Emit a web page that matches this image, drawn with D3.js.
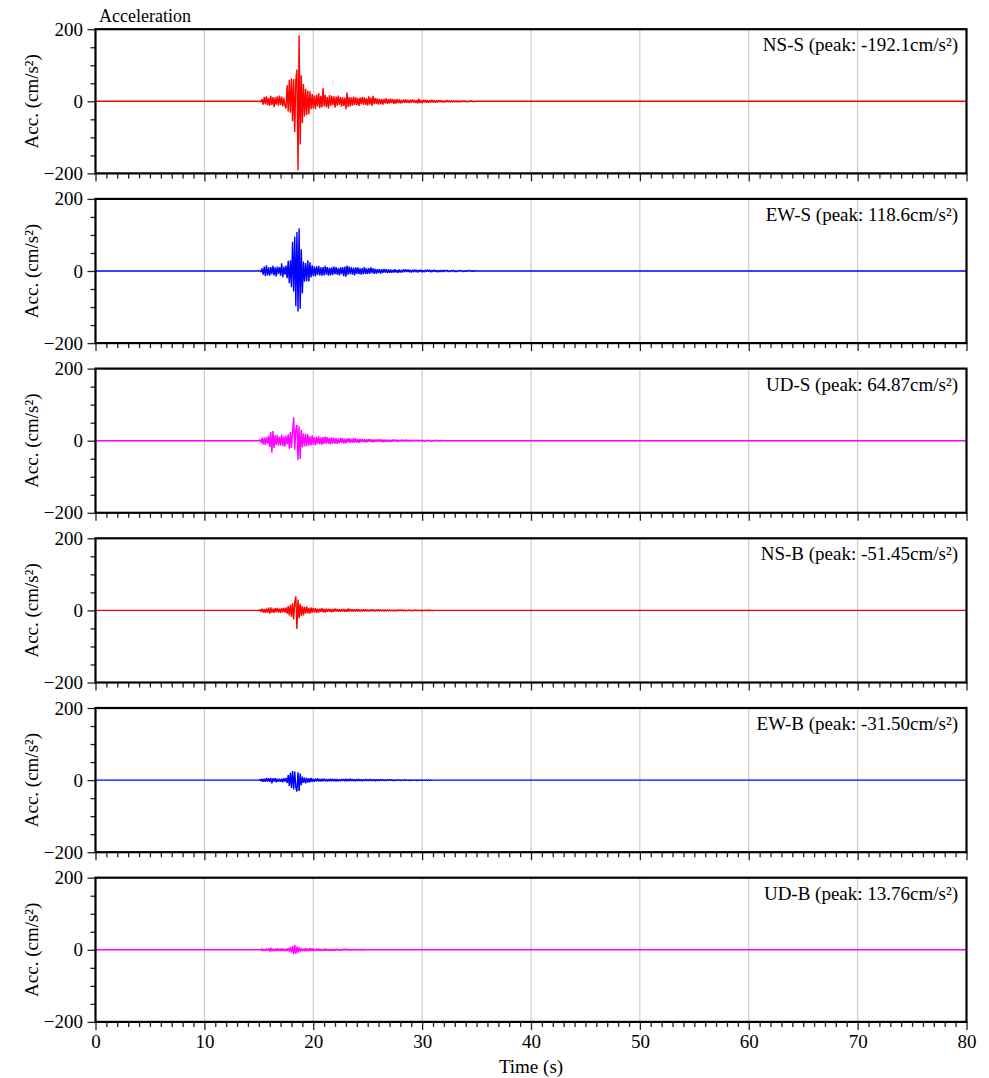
<!DOCTYPE html>
<html><head><meta charset="utf-8">
<script src="https://cdn.jsdelivr.net/npm/d3@7"></script>
<style>
body{margin:0;background:#fff}
svg{display:block}
text{font-family:"Liberation Serif","Times New Roman",serif;}
</style>
</head><body><svg id="chart" width="989" height="1078"></svg>
<script>
// ---------------- data ----------------
const channels = ["NS-S", "EW-S", "UD-S", "NS-B", "EW-B", "UD-B"];
const peakLabels = ["-192.1", "118.6", "64.87", "-51.45", "-31.50", "13.76"];
const timeDomain = [0, 80];
const accDomain = [-200, 200];
const timeStart = 15.0;   // first sample of the typed records (s)
const sampleStep = 0.1;   // sample interval (s)

const nsS = [
  0, 1, -2, 6, -9, 12, -8, 14, -11, 9,
  -13, 15, -10, 12, -16, 11, -9, 14, -12, 16,
  -10, 13, -14, 9, -12, -20, 45, -28, 60, -32,
  64, -55, 62, -85, 58, 88, -192.1, 183, -120, 72,
  -60, 48, -42, 35, -38, 30, -36, 28, -22, 20,
  -20, 16, -22, 18, -14, 23, -19, 15, -17, 37,
  -14, 18, -16, 12, -20, 17, -13, 15, -11, 14,
  -18, 13, -12, 16, -10, 12, -15, 11, -13, 10,
  -22, 24, -16, 12, -14, 11, -12, 13, -10, 12,
  -11, 9, -13, 10, -8, 12, -9, 11, -10, 8,
  -12, 14, -9, 10, -13, 15, -8, 9, -7, 8,
  -9, 7, -8, 6, -9, 7, -6, 8, -7, 6,
  -6, 7, -5, 6, -7, 5, -6, 6, -5, 5,
  -6, 4, -5, 5, -4, 5, -4, 4, -5, 4,
  -4, 5, -3, 4, -5, 4, -6, 7, -5, 4,
  -5, 4, -3, 4, -4, 3, -4, 3, -3, 4,
  -3, 3, -4, 3, -3, 3, -2, 3, -3, 2,
  -3, 2, -2, 3, -2, 2, -3, 2, -2, 2,
  -2, 2, -2, 2, -2, 1, -2, 2, -1, 2,
  -2, 1, -2, 1, -1, 2, -1, 1, -2, 1,
  0
];
const ewS = [
  0, 1, -3, 7, -10, 12, -14, 16, -12, 10,
  -13, 11, -9, 14, -12, 10, -15, 12, -8, 11,
  -13, 21, -17, 12, -10, 15, -20, 28, -34, 30,
  -45, 81, -57, 95, -98, 108, -112, 118.6, -105, 60,
  -62, 26, -30, 22, -28, 30, -29, 24, -18, 16,
  -14, 12, -15, 13, -11, 14, -12, 10, -13, 11,
  -12, 14, -10, 11, -13, 9, -12, 10, -11, 12,
  -9, 11, -10, 8, -12, 10, -9, 11, -14, 12,
  -16, 15, -10, 12, -9, 11, -10, 9, -12, 10,
  -8, 10, -9, 7, -10, 8, -9, 11, -8, 7,
  -9, 8, -7, 10, -6, 7, -8, 6, -7, 5,
  -6, 5, -7, 4, -5, 6, -4, 5, -6, 4,
  -5, 4, -5, 3, -4, 5, -4, 3, -5, 4,
  -4, 3, -4, 5, -3, 4, -3, 4, -3, 3,
  -4, 3, -3, 4, -3, 3, -4, 3, -2, 3,
  -3, 2, -3, 3, -2, 3, -2, 3, -3, 2,
  -2, 3, -2, 2, -3, 2, -2, 2, -2, 2,
  -2, 2, -1, 2, -2, 1, -2, 2, -1, 2,
  -2, 1, -2, 1, -1, 2, -1, 1, -2, 1,
  -1, 1, -1, 2, -1, 1, -1, 1, -1, 1,
  0
];
const udS = [
  0, 3, -6, 8, -10, 9, -12, 10, -8, 14,
  -18, 24, -33, 27, -20, 15, -12, 16, -14, 11,
  -13, 17, -15, 12, -16, 14, -10, 18, -22, 24,
  -20, 22, 64.87, -25, 30, 44, -54, 40, -50, 30,
  -18, 20, -16, 19, -15, 18, -14, 12, -13, 15,
  -12, 10, -13, 11, -9, 12, -10, 9, -11, 10,
  -9, 12, -8, 10, -9, 8, -10, 9, -8, 7,
  -8, 7, -9, 6, -7, 8, -6, 7, -8, 6,
  -7, 6, -5, 7, -6, 5, -6, 8, -5, 6,
  -5, 4, -6, 5, -4, 5, -4, 4, -5, 4,
  -4, 5, -3, 4, -4, 3, -4, 3, -3, 4,
  -3, 4, -3, 3, -4, 3, -3, 2, -3, 3,
  -3, 2, -3, 3, -2, 3, -2, 2, -3, 2,
  -2, 3, -2, 2, -2, 3, -2, 2, -2, 2,
  -2, 2, -2, 2, -1, 2, -2, 2, -1, 2,
  -2, 1, -2, 1, -1, 2, -1, 1, -2, 1,
  -1, 1, -1, 2, -1, 1, -1, 1, -1, 1,
  0
];
const nsB = [
  0, 2, -4, 5, -6, 4, -7, 5, -6, 8,
  -9, 8, -6, 5, -7, 6, -5, 7, -6, 5,
  -7, 6, -5, 7, -6, 8, -9, 12, -14, 16,
  -18, 20, -25, 22, 39, -51.45, 30, -22, 18, -15,
  12, -14, 10, -9, 11, -8, 7, -9, 8, -6,
  7, -5, 6, -7, 5, -6, 5, -4, 6, -5,
  4, -6, 5, -4, 5, -4, 4, -5, 4, -4,
  5, -3, 4, -4, 3, -4, 4, -3, 4, -4,
  3, -4, 5, -3, 4, -3, 3, -4, 3, -3,
  4, -3, 3, -3, 2, -3, 3, -2, 3, -3,
  2, -3, 2, -2, 3, -2, 2, -3, 2, -2,
  3, -2, 2, -2, 2, -3, 2, -2, 2, -2,
  2, -2, 1, -2, 2, -2, 1, -2, 2, -1,
  2, -1, 2, -2, 1, -2, 1, -1, 2, -1,
  1, -2, 1, -1, 2, -1, 1, -1, 1, -2,
  1, -1, 1, -1, 1, -1, 2, -1, 1, -1,
  0
];
const ewB = [
  0, 2, -3, 4, -5, 4, -5, 6, -4, 5,
  -5, 6, -9, 5, -4, 5, -6, 4, -5, 4,
  -5, 4, -6, 5, -4, 6, -8, 14, -16, 20,
  -22, 25, -26, 24, -20, -31.5, 22, -30, 18, -14,
  10, -8, 7, -9, 6, -7, 5, -6, 6, -5,
  4, -5, 4, -3, 5, -4, 3, -4, 4, -3,
  4, -3, 3, -4, 3, -3, 4, -3, 3, -3,
  3, -4, 3, -3, 2, -3, 3, -2, 3, -3,
  4, -3, 3, -3, 4, -2, 3, -3, 2, -3,
  3, -2, 3, -2, 2, -3, 2, -2, 3, -2,
  2, -2, 3, -2, 2, -2, 2, -3, 2, -2,
  2, -2, 2, -1, 2, -2, 1, -2, 2, -1,
  2, -1, 2, -2, 1, -2, 1, -1, 2, -1,
  1, -2, 1, -1, 2, -1, 1, -1, 1, -2,
  1, -1, 1, -1, 1, -2, 1, -1, 1, -1,
  1, -1, 1, -1, 1, -1, 1, -1, 1, -1,
  0
];
const udB = [
  0, 1, -2, 3, -3, 2, -3, 3, -2, 4,
  -5, 6, -4, 3, -4, 3, -3, 4, -3, 3,
  -3, 4, -3, 3, -4, 3, -3, 4, -5, 7,
  -8, 10, -12, 13.76, -11, 9, -8, 7, -5, 4,
  -4, 3, -4, 5, -4, 3, -3, 4, -3, 4,
  -3, 2, -3, 3, -2, 3, -2, 2, -3, 2,
  -2, 3, -2, 2, -2, 2, -3, 2, -2, 2,
  -2, 2, -1, 2, -2, 1, -2, 2, -1, 2,
  -1, 2, -1, 1, -2, 1, -1, 2, -1, 1,
  -1, 1, -1, 1, -1, 1, -1, 1, -1, 1,
  0
];
const records = [nsS, ewS, udS, nsB, ewB, udB];

const yMajorTicks = [-200, 0, 200];
const yMinorTicks = [-150, -100, -50, 50, 100, 150];
const xMajorTicks = [0, 10, 20, 30, 40, 50, 60, 70, 80];
const xMinorTicks = d3.range(0, 81, 1);

// ---------------- style / layout ----------------
const traceColors = ["#ff0000", "#0000ff", "#ff00ff", "#ff0000", "#0000ff", "#ff00ff"];
const L = 95.5, R = 966.5;
const panelTop0 = 29.2, panelStep = 169.7, panelH = 144.2;
const FS = 19;

const svg = d3.select("#chart");
const x = d3.scaleLinear().domain(timeDomain).range([L, R]);

svg.append("text").attr("x", 99).attr("y", 21.5)
  .attr("font-size", FS - 1).text("Acceleration");

channels.forEach((ch, i) => {
  const top = panelTop0 + i * panelStep;
  const bot = top + panelH;
  const y = d3.scaleLinear().domain(accDomain).range([bot, top]);
  const g = svg.append("g");

  // clip
  const cid = "clip" + i;
  svg.append("clipPath").attr("id", cid).append("rect")
    .attr("x", L).attr("y", top).attr("width", R - L).attr("height", panelH);

  // grid
  g.append("g").selectAll("line").data(xMajorTicks.filter(t => t > 0 && t < 80)).join("line")
    .attr("x1", d => x(d)).attr("x2", d => x(d))
    .attr("y1", top).attr("y2", bot)
    .attr("stroke", "#cccccc").attr("stroke-width", 1.2);

  // trace
  const rec = records[i];
  const pts = [[timeDomain[0], 0]]
    .concat(rec.map((v, k) => [timeStart + k * sampleStep, v]))
    .concat([[timeDomain[1], 0]]);
  const line = d3.line().x(d => x(d[0])).y(d => y(d[1]));
  g.append("path").datum(pts)
    .attr("clip-path", `url(#${cid})`)
    .attr("d", line).attr("fill", "none")
    .attr("stroke", traceColors[i]).attr("stroke-width", 1.4)
    .attr("stroke-linejoin", "bevel");

  // y axes
  const yMaj = g.append("g").attr("transform", `translate(${L},0)`)
    .call(d3.axisLeft(y).tickValues(yMajorTicks).tickSize(8).tickPadding(4.5).tickFormat(d3.format("d")));
  yMaj.select(".domain").remove();
  yMaj.selectAll("text").attr("font-size", FS).attr("font-family", '"Liberation Serif", serif').attr("fill", "#000");
  yMaj.selectAll("line").attr("stroke", "#222").attr("stroke-width", 1.3);
  const yMin = g.append("g").attr("transform", `translate(${L},0)`)
    .call(d3.axisLeft(y).tickValues(yMinorTicks).tickSize(5).tickFormat(""));
  yMin.select(".domain").remove();
  yMin.selectAll("line").attr("stroke", "#222").attr("stroke-width", 1.3);

  // x axes (ticks on every panel)
  const xMin = g.append("g").attr("transform", `translate(0,${bot})`)
    .call(d3.axisBottom(x).tickValues(xMinorTicks.filter(t => t % 10 !== 0)).tickSize(5).tickFormat(""));
  xMin.select(".domain").remove();
  xMin.selectAll("line").attr("stroke", "#222").attr("stroke-width", 1.3);
  const xMaj = g.append("g").attr("transform", `translate(0,${bot})`)
    .call(d3.axisBottom(x).tickValues(xMajorTicks).tickSize(8).tickPadding(5)
      .tickFormat(i === channels.length - 1 ? d3.format("d") : ""));
  xMaj.select(".domain").remove();
  xMaj.selectAll("line").attr("stroke", "#222").attr("stroke-width", 1.3);
  xMaj.selectAll("text").attr("font-size", FS).attr("font-family", '"Liberation Serif", serif').attr("fill", "#000");

  // frame
  g.append("rect").attr("x", L).attr("y", top).attr("width", R - L).attr("height", panelH)
    .attr("fill", "none").attr("stroke", "#000").attr("stroke-width", 2.2);

  // y label
  svg.append("text")
    .attr("transform", `translate(38,${(top + bot) / 2}) rotate(-90)`)
    .attr("text-anchor", "middle").attr("font-size", FS)
    .text("Acc. (cm/s²)");

  // channel label
  svg.append("text").attr("x", 958).attr("y", top + 22)
    .attr("text-anchor", "end").attr("font-size", FS)
    .text(`${ch} (peak: ${peakLabels[i]}cm/s²)`);
});

const lastBot = panelTop0 + (channels.length - 1) * panelStep + panelH;
svg.append("text").attr("x", (L + R) / 2).attr("y", lastBot + 51)
  .attr("text-anchor", "middle").attr("font-size", FS).text("Time (s)");
</script>
</body></html>
